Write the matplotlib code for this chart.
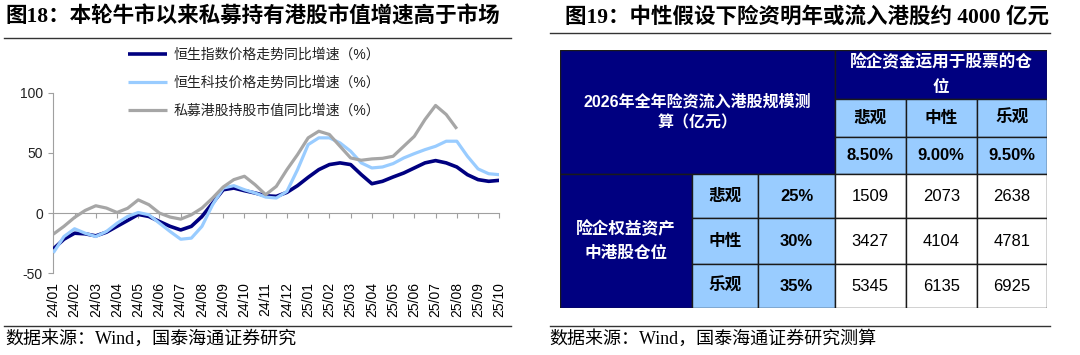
import numpy as np
import matplotlib
matplotlib.use("Agg")
import matplotlib.pyplot as plt
from matplotlib.lines import Line2D
from matplotlib.patches import Rectangle

plt.rcParams['font.family'] = ['Liberation Sans', 'Noto Sans CJK SC']
plt.rcParams['axes.unicode_minus'] = False

# ---- 图18 数据 (读图估计, 半月一个点) ----
months = ['24/01', '24/02', '24/03', '24/04', '24/05', '24/06', '24/07', '24/08',
          '24/09', '24/10', '24/11', '24/12', '25/01', '25/02', '25/03', '25/04',
          '25/05', '25/06', '25/07', '25/08', '25/09', '25/10']
hsi = [-29.8, -21.7, -16.7, -17.2, -18.9, -15.9, -11.0, -6.1, -1.1, -2.8,
       -7.0, -11.0, -14.0, -11.0, -2.8, 8.3, 19.4, 20.8, 18.6, 16.7,
       14.4, 13.9, 17.2, 22.8, 29.7, 36.1, 40.3, 41.7, 40.3, 32.0,
       24.4, 26.4, 30.0, 33.3, 37.5, 41.7, 43.6, 41.7, 38.3, 31.9,
       27.8, 26.4, 27.2]
hstech = [-33.0, -19.5, -13.0, -16.7, -19.5, -15.3, -8.4, -2.8, 0.5, -1.4,
          -8.4, -15.3, -21.7, -20.8, -11.0, 6.9, 20.8, 22.8, 19.4, 16.7,
          13.3, 12.5, 18.0, 36.1, 56.9, 62.5, 62.5, 58.3, 51.4, 41.7,
          37.5, 38.3, 41.1, 45.8, 49.4, 52.7, 55.5, 59.7, 59.7, 47.2,
          36.7, 32.7, 31.9]
private = [-17.5, -11.0, -3.6, 2.2, 6.1, 4.2, 0.5, 4.0, 11.0, 7.0,
           0.0, -3.3, -5.0, -1.4, 4.2, 12.5, 21.7, 27.8, 30.6, 23.6,
           15.3, 22.2, 36.1, 48.6, 62.5, 68.0, 65.3, 55.5, 45.8, 43.9,
           45.0, 45.5, 47.2, 55.5, 63.8, 77.7, 89.4, 81.9, 70.0]
series_names = ['恒生指数价格走势同比增速（%）', '恒生科技价格走势同比增速（%）', '私募港股持股市值同比增速（%）']

# ---- 图19 数据 ----
stock_scen = ['悲观', '中性', '乐观']
stock_ratio = ['8.50%', '9.00%', '9.50%']
hk_scen = ['悲观', '中性', '乐观']
hk_ratio = ['25%', '30%', '35%']
inflow = [[1509, 2073, 2638],
          [3427, 4104, 4781],
          [5345, 6135, 6925]]

W, H = 1080, 355
fig = plt.figure(figsize=(W / 100, H / 100), dpi=100)

def fx(px):
    return px / W

def fy(py):
    return 1 - py / H

serif_cjk = ['Liberation Serif', 'Noto Sans CJK SC']

# 标题和分隔线
fig.text(fx(5), fy(17), '图18：本轮牛市以来私募持有港股市值增速高于市场', family=serif_cjk,
         fontsize=15.5, fontweight='bold', va='center', ha='left')
fig.text(fx(565), fy(17), '图19：中性假设下险资明年或流入港股约 4000 亿元', family=serif_cjk,
         fontsize=15.5, fontweight='bold', va='center', ha='left')
for x0, x1, yy in [(4, 511, 38), (550, 1050, 33), (4, 511, 326), (550, 1050, 326)]:
    fig.add_artist(Line2D([fx(x0), fx(x1)], [fy(yy), fy(yy)], color='#333333', lw=1.0))
fig.text(fx(5), fy(339), '数据来源：Wind，国泰海通证券研究', family=serif_cjk, fontsize=13, va='center')
fig.text(fx(549), fy(339), '数据来源：Wind，国泰海通证券研究测算', family=serif_cjk, fontsize=13, va='center')

# ---- 折线图 ----
ax = fig.add_axes([fx(53.3), fy(273.3), fx(499.3) - fx(53.3), fy(92.7) - fy(273.3)])
t = np.arange(len(hsi)) * 0.5
ax.plot(t, hsi, color='#000080', lw=2.6, label=series_names[0], solid_capstyle='butt', zorder=3)
ax.plot(t[:len(hstech)], hstech, color='#99CCFF', lw=2.3, label=series_names[1], solid_capstyle='butt', zorder=4)
ax.plot(t[:len(private)], private, color='#A6A6A6', lw=2.3, label=series_names[2], solid_capstyle='butt', zorder=5)

ax.set_xlim(0, len(months) - 1)
ax.set_ylim(-50, 100)
ax.set_yticks([-50, 0, 50, 100])
ax.set_xticks(range(len(months)))
ax.set_xticklabels(months, fontsize=9.5, color='#222222', va='top', ha='center')
for s in ['top', 'right']:
    ax.spines[s].set_visible(False)
ax.spines['bottom'].set_position(('data', 0))
ax.spines['bottom'].set_color('#A0A0A0')
ax.spines['left'].set_color('#A0A0A0')
ax.tick_params(axis='x', direction='out', length=3.5, color='#A0A0A0', pad=46, labelrotation=90)
ax.tick_params(axis='y', direction='out', length=3.5, color='#A0A0A0', labelsize=10, labelcolor='#222222', pad=4)
ax.patch.set_alpha(0)

leg = ax.legend(loc='upper left', bbox_to_anchor=(fx(128), fy(48)), bbox_transform=fig.transFigure,
                frameon=False, fontsize=10, handlelength=2.8, handletextpad=0.5,
                labelspacing=1.0, borderpad=0, borderaxespad=0)
for txt in leg.get_texts():
    txt.set_color('#222222')

# ---- 表格 ----
tx0, tx1, ty0, ty1 = 560, 1047, 50, 308.3
tab = fig.add_axes([fx(tx0), fy(ty1), fx(tx1) - fx(tx0), fy(ty0) - fy(ty1)])
tab.set_xlim(0, tx1 - tx0)
tab.set_ylim(ty1 - ty0, 0)
tab.axis('off')

cx = [0, 131.7, 198.3, 275, 345.7, 416.7, 487]
ry = [0, 49.3, 86.7, 124, 168.3, 214, 258.3]
navy, light = '#000080', '#99CCFF'

def cell(c0, c1, r0, r1, color, text='', tcolor='black', weight='normal', size=12,
         fam=('Liberation Sans', 'DejaVu Sans')):
    tab.add_patch(Rectangle((cx[c0], ry[r0]), cx[c1] - cx[c0], ry[r1] - ry[r0],
                            facecolor=color, edgecolor='#1a1a1a', lw=1.0))
    if text:
        tab.text((cx[c0] + cx[c1]) / 2, (ry[r0] + ry[r1]) / 2, text, ha='center', va='center',
                 color=tcolor, fontweight=weight, fontsize=size, fontfamily=list(fam),
                 linespacing=1.45)

cjk = ('Noto Sans CJK SC',)
cell(0, 3, 0, 3, navy, '2026年全年险资流入港股规模测\n算（亿元）', 'white', 'bold', 11.5,
     ('Liberation Sans', 'Noto Sans CJK SC'))
cell(3, 6, 0, 1, navy, '险企资金运用于股票的仓\n位', 'white', 'bold', 12, cjk)
for j in range(3):
    cell(3 + j, 4 + j, 1, 2, light, stock_scen[j], 'black', 'bold', 12, cjk)
    cell(3 + j, 4 + j, 2, 3, light, stock_ratio[j], 'black', 'bold', 12)
cell(0, 1, 3, 6, navy, '险企权益资产\n中港股仓位', 'white', 'bold', 12, cjk)
for i in range(3):
    cell(1, 2, 3 + i, 4 + i, light, hk_scen[i], 'black', 'bold', 12, cjk)
    cell(2, 3, 3 + i, 4 + i, light, hk_ratio[i], 'black', 'bold', 12)
    for j in range(3):
        cell(3 + j, 4 + j, 3 + i, 4 + i, 'white', str(inflow[i][j]), 'black', 'normal', 12)

fig.savefig('out.png', dpi=100)
